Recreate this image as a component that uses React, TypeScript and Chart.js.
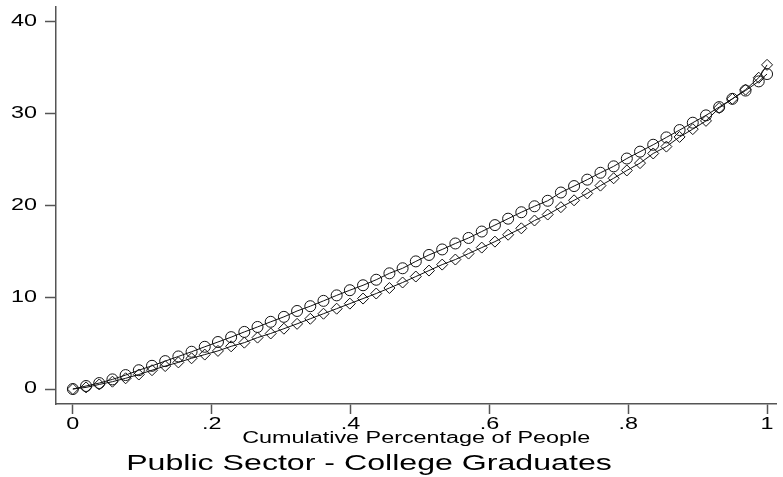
import React, { useEffect, useRef } from 'react';
import { Chart, registerables } from 'chart.js';

Chart.register(...registerables);

// ---- data ----
const xValues = [
  0, 0.019, 0.038, 0.057, 0.076, 0.095, 0.114, 0.133, 0.152, 0.171,
  0.19, 0.209, 0.228, 0.247, 0.266, 0.285, 0.304, 0.323, 0.342, 0.361,
  0.38, 0.399, 0.418, 0.437, 0.456, 0.475, 0.494, 0.513, 0.532, 0.551,
  0.57, 0.589, 0.608, 0.627, 0.646, 0.665, 0.684, 0.703, 0.722, 0.741,
  0.76, 0.779, 0.798, 0.817, 0.836, 0.855, 0.874, 0.893, 0.912, 0.931,
  0.95, 0.969, 0.988, 1,
];

const circleSeries = [
  0, 0.33, 0.65, 1.05, 1.52, 2.05, 2.53, 3.04, 3.55, 4.06,
  4.6, 5.12, 5.65, 6.22, 6.76, 7.32, 7.86, 8.5, 9.02, 9.6,
  10.2, 10.76, 11.3, 11.9, 12.6, 13.15, 13.9, 14.6, 15.2, 15.85,
  16.45, 17.15, 17.85, 18.55, 19.25, 19.9, 20.5, 21.4, 22.1, 22.8,
  23.55, 24.25, 25.1, 25.85, 26.6, 27.4, 28.2, 29.0, 29.8, 30.7,
  31.6, 32.5, 33.5, 34.3,
];

const diamondSeries = [
  0, 0.18, 0.5, 0.8, 1.17, 1.58, 2.05, 2.5, 2.9, 3.35,
  3.75, 4.15, 4.65, 5.05, 5.6, 6.05, 6.57, 7.1, 7.65, 8.2,
  8.75, 9.3, 9.85, 10.4, 11.0, 11.6, 12.25, 12.9, 13.55, 14.1,
  14.75, 15.4, 16.05, 16.8, 17.5, 18.35, 19.0, 19.8, 20.55, 21.3,
  22.15, 22.95, 23.8, 24.6, 25.65, 26.4, 27.45, 28.3, 29.2, 30.6,
  31.6, 32.6, 33.9, 35.3,
];

const xTickValues = [0, 0.2, 0.4, 0.6, 0.8, 1];
const xTickLabels = ['0', '.2', '.4', '.6', '.8', '1'];
const yTickValues = [0, 10, 20, 30, 40];
const yTickLabels = ['0', '10', '20', '30', '40'];
const xAxisTitle = 'Cumulative Percentage of People';
const chartTitle = 'Public Sector - College Graduates';

// ---- style ----
const FONT = '"Liberation Sans", Arial, Helvetica, sans-serif';
const TEXT_STRETCH = 1.46;
const AXIS_COLOR = '#555';
const INK = '#111';

const stretchTextPlugin = {
  id: 'stretchText',
  beforeInit(chart: any) {
    const ctx = chart.ctx as any;
    if (ctx.__stretched) return;
    const orig = ctx.fillText.bind(ctx);
    ctx.fillText = (text: string, x: number, y: number, maxWidth?: number) => {
      ctx.save();
      ctx.translate(x, y);
      ctx.scale(TEXT_STRETCH, 1);
      if (maxWidth !== undefined && maxWidth !== null) orig(text, 0, 0, maxWidth / TEXT_STRETCH);
      else orig(text, 0, 0);
      ctx.restore();
    };
    ctx.__stretched = true;
  },
};

const bottomTitlePlugin = {
  id: 'bottomTitle',
  afterDraw(chart: any) {
    const ctx = chart.ctx;
    ctx.save();
    ctx.font = `22px ${FONT}`;
    ctx.fillStyle = '#000';
    ctx.textAlign = 'center';
    ctx.textBaseline = 'alphabetic';
    ctx.fillText(chartTitle, 369, 470);
    ctx.restore();
  },
};

export default function App() {
  const canvasRef = useRef<HTMLCanvasElement | null>(null);

  useEffect(() => {
    if (!canvasRef.current) return;
    const chart = new Chart(canvasRef.current, {
      type: 'scatter',
      data: {
        datasets: [
          {
            label: 'circles',
            data: xValues.map((x, i) => ({ x, y: circleSeries[i] })),
            showLine: true,
            borderColor: INK,
            borderWidth: 1,
            pointStyle: 'circle',
            pointRadius: 5.5,
            pointBorderWidth: 1,
            pointBorderColor: INK,
            pointBackgroundColor: 'rgba(0,0,0,0)',
            tension: 0,
          },
          {
            label: 'diamonds',
            data: xValues.map((x, i) => ({ x, y: diamondSeries[i] })),
            showLine: true,
            borderColor: INK,
            borderWidth: 1,
            pointStyle: 'rectRot',
            pointRadius: 5.5,
            pointBorderWidth: 1,
            pointBorderColor: INK,
            pointBackgroundColor: 'rgba(0,0,0,0)',
            tension: 0,
          },
        ],
      },
      options: {
        responsive: false,
        maintainAspectRatio: false,
        animation: false,
        layout: { padding: { left: 0, right: 2, top: 7, bottom: 0 } },
        plugins: {
          legend: { display: false },
          tooltip: { enabled: false },
          title: { display: false },
        },
        scales: {
          x: {
            type: 'linear',
            min: -0.0243,
            max: 1.0136,
            afterBuildTicks: (s: any) => {
              s.ticks = xTickValues.map((v) => ({ value: v }));
            },
            afterFit: (s: any) => {
              s.height = 73;
              s.paddingLeft = 0;
              s.paddingRight = 0;
            },
            ticks: {
              autoSkip: false,
              maxRotation: 0,
              padding: 1,
              color: '#000',
              font: { family: FONT, size: 16 },
              callback: (_v: any, i: number) => xTickLabels[i],
            },
            grid: {
              display: true,
              drawOnChartArea: false,
              drawTicks: true,
              tickLength: 10,
              tickColor: AXIS_COLOR,
              tickWidth: 1.5,
              color: AXIS_COLOR,
            },
            border: { display: true, color: AXIS_COLOR, width: 1.5 },
            title: {
              display: true,
              text: xAxisTitle,
              color: '#000',
              font: { family: FONT, size: 16 },
              padding: { top: 0, bottom: 29 },
            },
          },
          y: {
            type: 'linear',
            min: -1.63,
            max: 41.6,
            afterBuildTicks: (s: any) => {
              s.ticks = yTickValues.map((v) => ({ value: v }));
            },
            afterFit: (s: any) => {
              s.width = 56;
              s.paddingTop = 0;
              s.paddingBottom = 0;
            },
            ticks: {
              autoSkip: false,
              padding: 8,
              color: '#000',
              font: { family: FONT, size: 16 },
              callback: (_v: any, i: number) => yTickLabels[i],
            },
            grid: {
              display: true,
              drawOnChartArea: false,
              drawTicks: true,
              tickLength: 11,
              tickColor: AXIS_COLOR,
              tickWidth: 1.5,
              color: AXIS_COLOR,
            },
            border: { display: true, color: AXIS_COLOR, width: 1.5 },
          },
        },
      },
      plugins: [stretchTextPlugin, bottomTitlePlugin],
    } as any);
    return () => chart.destroy();
  }, []);

  return (
    <div style={{ position: 'fixed', left: 0, top: 0, width: 783, height: 477, background: '#fff' }}>
      <canvas ref={canvasRef} width={783} height={477} style={{ display: 'block', width: 783, height: 477 }} />
    </div>
  );
}
